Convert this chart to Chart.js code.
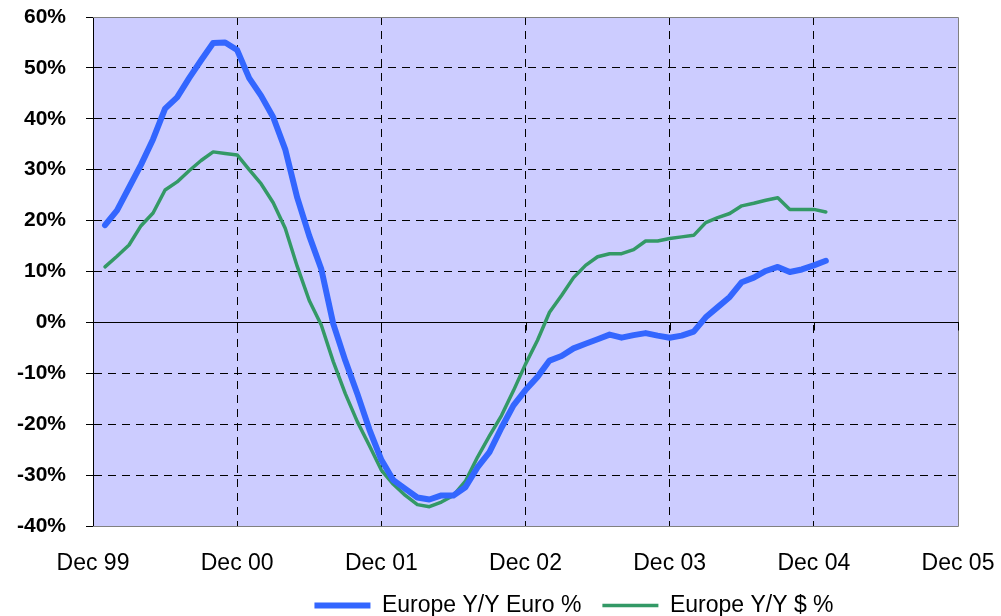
<!DOCTYPE html>
<html>
<head>
<meta charset="utf-8">
<script src="https://cdn.jsdelivr.net/npm/chart.js@4.4.1/dist/chart.umd.min.js"></script>
<style>
html, body { margin: 0; padding: 0; background: #ffffff; }
</style>
</head>
<body>
<canvas id="graficaEuropa" width="1001" height="616"></canvas>
<script>
// Year tick labels (one every 12 months, Dec 99 = month 0)
var yearLabels = ["Dec 99", "Dec 00", "Dec 01", "Dec 02", "Dec 03", "Dec 04", "Dec 05"];
var firstMonth = 1; // first value is Jan 00

var euroValues = [
    19.1, 22, 26.5, 31, 36, 42, 44.2, 48, 51.5, 54.9, 55, 53.5,
    48, 44.5, 40.3, 34, 24.5, 17, 10.5, -0.3, -7.5, -14, -21, -27,
    -31, -32.7, -34.4, -34.8, -34, -34, -32.4, -28.5, -25.5, -20.7, -16.3, -13.3,
    -10.7, -7.5, -6.6, -5.1, -4.2, -3.3, -2.4, -3, -2.5, -2.1, -2.6, -3,
    -2.6, -1.8, 1, 3, 5, 7.9, 8.8, 10.1, 10.9, 9.9, 10.4, 11.2,
    12.1
];

var dollarValues = [
    10.9, 13, 15.2, 19, 21.5, 26, 27.6, 29.8, 31.8, 33.5, 33.2, 32.9,
    30, 27.2, 23.5, 18.5, 11, 4.3, -0.5, -7.7, -14, -19.5, -24.2, -29,
    -31.8, -34, -35.8, -36.2, -35.3, -34, -31.2, -26.5, -22.3, -18.3, -13.4, -8.2,
    -3.5, 2, 5.3, 8.8, 11.2, 12.9, 13.5, 13.5, 14.3, 16, 16, 16.5,
    16.8, 17.1, 19.6, 20.6, 21.4, 22.9, 23.4, 24, 24.5, 22.2, 22.2, 22.2,
    21.7
];

function toPoints(valores) {
    return valores.map(function (v, i) {
        return { x: firstMonth + i, y: v };
    });
}

var fuente = "'Liberation Sans', Arial, sans-serif";

// fondo del area del grafico + borde gris + linea del cero
var plotArea = {
    id: "plotArea",
    beforeDraw: function (chart) {
        var a = chart.chartArea, c = chart.ctx;
        c.save();
        c.fillStyle = "#CCCCFF";
        c.fillRect(a.left, a.top, a.right - a.left, a.bottom - a.top);
        c.restore();
    },
    beforeDatasetsDraw: function (chart) {
        var a = chart.chartArea, c = chart.ctx;
        var xs = chart.scales.x, ys = chart.scales.y;
        var y0 = Math.round(ys.getPixelForValue(0)) + 0.5;
        c.save();
        c.strokeStyle = "#808080";
        c.lineWidth = 1;
        c.beginPath();
        c.moveTo(a.left, a.top + 0.5);
        c.lineTo(a.right + 0.5, a.top + 0.5);
        c.lineTo(a.right + 0.5, a.bottom + 0.5);
        c.lineTo(a.left, a.bottom + 0.5);
        c.stroke();
        c.strokeStyle = "#000000";
        c.beginPath();
        c.moveTo(a.left, y0);
        c.lineTo(a.right + 1, y0);
        xs.ticks.forEach(function (t) {
            var px = Math.round(xs.getPixelForValue(t.value)) + 0.5;
            c.moveTo(px, y0);
            c.lineTo(px, y0 + 8);
        });
        c.stroke();
        c.restore();
    },
    afterLayout: function (chart) {
        // la leyenda del original esta corrida a la derecha y mas abajo
        var lg = chart.legend;
        lg.left += 95;
        lg.right += 95;
        lg.top += 11;
        lg.bottom += 11;
        // que no se recorten las etiquetas del eje x
        chart.scales.x.bottom = chart.height;
    }
};

var ctx = document.getElementById("graficaEuropa").getContext("2d");
var chart = new Chart(ctx, {
    type: "line",
    data: {
        datasets: [{
            label: "Europe Y/Y Euro %",
            data: toPoints(euroValues),
            borderColor: "#3366FF",
            backgroundColor: "#3366FF",
            borderWidth: 6,
            pointRadius: 0,
            tension: 0,
            borderJoinStyle: "round",
            borderCapStyle: "round"
        }, {
            label: "Europe Y/Y $ %",
            data: toPoints(dollarValues),
            borderColor: "#339966",
            backgroundColor: "#339966",
            borderWidth: 3.5,
            pointRadius: 0,
            tension: 0,
            borderJoinStyle: "round",
            borderCapStyle: "round"
        }]
    },
    options: {
        responsive: false,
        animation: false,
        layout: { padding: { left: 0, right: 43, top: 17, bottom: 0 } },
        plugins: {
            legend: {
                position: "bottom",
                labels: {
                    usePointStyle: true,
                    pointStyle: "line",
                    pointStyleWidth: 56,
                    boxHeight: 6,
                    padding: 21,
                    color: "#000000",
                    font: { family: fuente, size: 23 }
                }
            },
            tooltip: { enabled: false }
        },
        scales: {
            x: {
                type: "linear",
                min: 0,
                max: 72,
                afterFit: function (s) {
                    s.height = 616 - 526 - s.chart.legend.height;
                    s.paddingLeft = 0;
                    s.paddingRight = 0;
                },
                ticks: {
                    stepSize: 12,
                    autoSkip: false,
                    maxRotation: 0,
                    padding: 24,
                    color: "#000000",
                    font: { family: fuente, size: 23 },
                    callback: function (v, i) { return yearLabels[i]; }
                },
                grid: {
                    drawTicks: false,
                    lineWidth: 1,
                    color: function (c) {
                        var v = c.tick ? c.tick.value : null;
                        return (v === 0 || v === 72) ? "rgba(0,0,0,0)" : "#000000";
                    }
                },
                border: { display: false, dash: [8, 6] }
            },
            y: {
                min: -40,
                max: 60,
                afterFit: function (s) {
                    s.width = 93;
                    s.paddingTop = 0;
                    s.paddingBottom = 0;
                },
                ticks: {
                    stepSize: 10,
                    padding: 20,
                    color: "#000000",
                    font: { family: fuente, size: 21, weight: "bold" },
                    callback: function (v) { return v + "%"; }
                },
                grid: {
                    tickLength: 7,
                    tickColor: "#000000",
                    lineWidth: 1,
                    color: function (c) {
                        var v = c.tick ? c.tick.value : null;
                        return (v === -40 || v === 60 || v === 0) ? "rgba(0,0,0,0)" : "#000000";
                    }
                },
                border: { display: true, color: "#000000", width: 1, dash: [8, 6] }
            }
        }
    },
    plugins: [plotArea]
});
</script>
</body>
</html>
